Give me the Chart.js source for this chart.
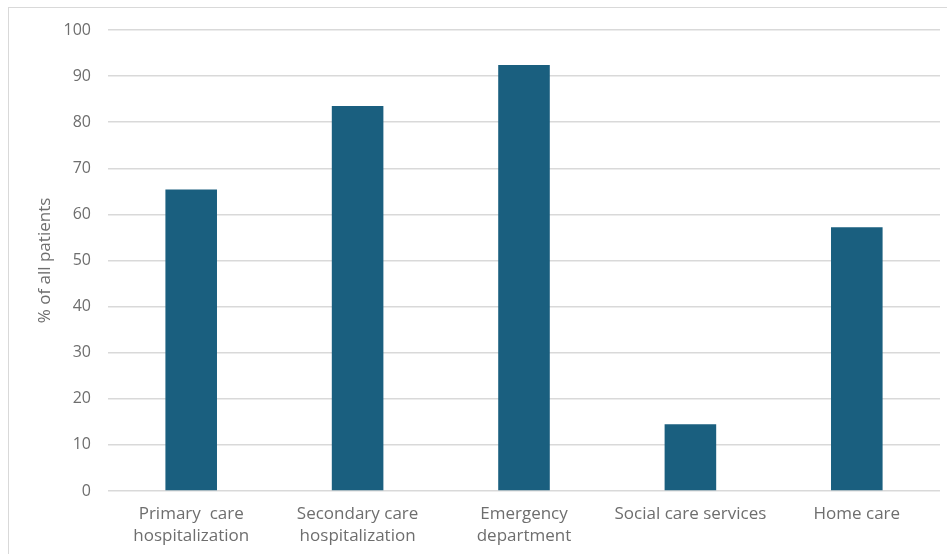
<!DOCTYPE html>
<html>
	<head>
		<title>% of all patients</title>
		<meta http-equiv="Content-Type" content="text/html; charset=UTF-8" />
		<script src="https://cdn.jsdelivr.net/npm/chart.js@4/dist/chart.umd.min.js"></script>
		<style>
			body { margin: 0; background: #fff; }
			#wrap { position: relative; width: 947px; height: 554px; overflow: hidden; }
			#frame { position: absolute; left: 8px; top: 7px; width: 960px; height: 580px; border: 1px solid #d9d9d9; }
			#myChart { position: absolute; left: 0; top: 0; }
		</style>
		<script>
			// chart data
			var categories = [
				["Primary  care", "hospitalization"],
				["Secondary care", "hospitalization"],
				["Emergency", "department"],
				"Social care services",
				"Home care"
			];
			var patientShare = [65.4, 83.5, 92.4, 14.5, 57.2];
			var yTicks = [0, 10, 20, 30, 40, 50, 60, 70, 80, 90, 100];

			window.onload = function() {
				var ctx = document.getElementById('myChart').getContext('2d');
				var textColor = '#6e6e6e';
				var fontFamily = "'Open Sans', 'Liberation Sans', sans-serif";

				var chart = new Chart(ctx, {
					type: 'bar',
					data: {
						labels: categories,
						datasets: [{
							label: '% of all patients',
							backgroundColor: '#1a5f7f',
							data: patientShare,
							barPercentage: 0.31,
							categoryPercentage: 1.0
						}]
					},
					options: {
						responsive: false,
						animation: false,
						layout: { padding: { left: 8, top: 30, right: 7, bottom: 0 } },
						plugins: {
							legend: { display: false },
							tooltip: { enabled: false }
						},
						scales: {
							x: {
								grid: { display: false, drawTicks: false },
								border: { display: false },
								ticks: {
									color: textColor,
									font: { family: fontFamily, size: 17, lineHeight: 1.3 },
									padding: 12,
									maxRotation: 0,
									autoSkip: false
								},
								afterFit: function(scale) { scale.height = 63; }
							},
							y: {
								min: 0,
								max: 100,
								afterBuildTicks: function(scale) {
									scale.ticks = yTicks.map(function(v) { return { value: v }; });
								},
								grid: { color: '#d9d9d9', lineWidth: 1.5, drawTicks: false },
								border: { display: false },
								ticks: {
									color: textColor,
									font: { family: fontFamily, size: 16 },
									padding: 17
								},
								title: {
									display: true,
									text: '% of all patients',
									color: textColor,
									font: { family: fontFamily, size: 17 },
									padding: { top: 27, bottom: 0 }
								},
								afterFit: function(scale) { scale.width = 100; }
							}
						}
					}
				});
			};
		</script>
	</head>
	<body>
		<div id="wrap">
			<div id="frame"></div>
			<canvas id="myChart" width="947" height="554"></canvas>
		</div>
	</body>
</html>
